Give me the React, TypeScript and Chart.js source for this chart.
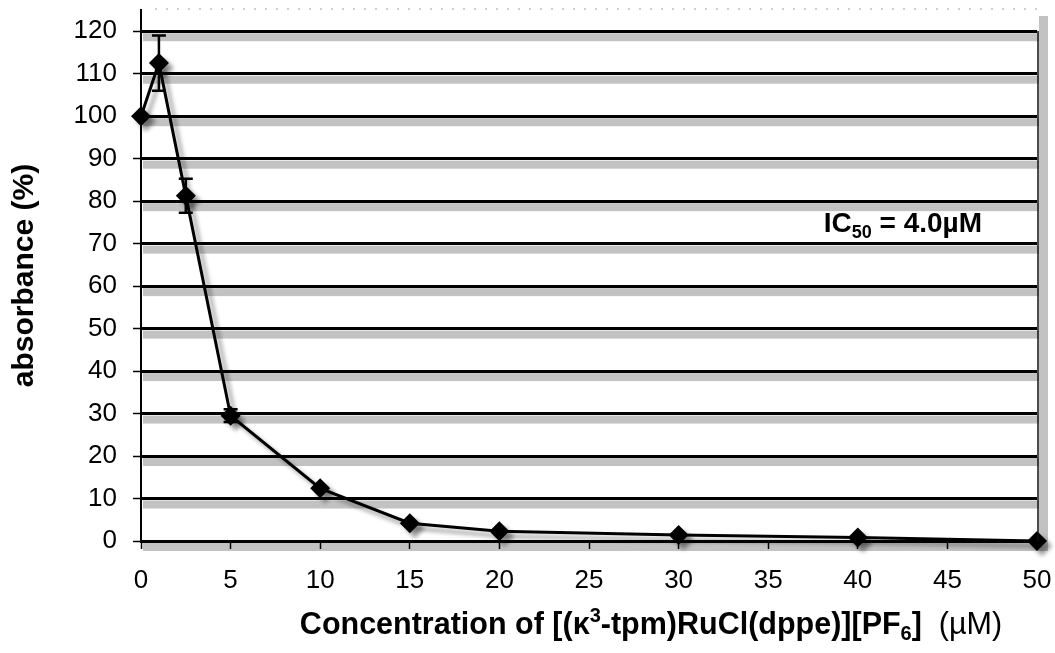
import React, { useEffect, useRef } from "react";
import { Chart, registerables } from "chart.js";

Chart.register(...registerables);

// Concentration (µM) and relative absorbance (%) with standard deviations
const concentrations = [0, 1, 2.5, 5, 10, 15, 20, 30, 40, 50];
const absorbance = [100, 112.5, 81.3, 29.5, 12.4, 4.2, 2.3, 1.4, 0.8, 0];
const deviations = [0, 6.5, 4, 1.5, 0, 0, 0, 0, 0, 0];

const xTickValues = [0, 5, 10, 15, 20, 25, 30, 35, 40, 45, 50];
const yTickValues = [0, 10, 20, 30, 40, 50, 60, 70, 80, 90, 100, 110, 120];

const yAxisTitle = "absorbance (%)";
const xAxisTitleParts = [
  { text: "Concentration of [(κ", kind: "main" },
  { text: "3", kind: "sup" },
  { text: "-tpm)RuCl(dppe)][PF", kind: "main" },
  { text: "6", kind: "sub" },
  { text: "]  ", kind: "main" },
  { text: "(µM)", kind: "unit" },
];
const icParts = [
  { text: "IC", kind: "main" },
  { text: "50", kind: "sub" },
  { text: " = 4.0µM", kind: "main" },
];

const FAMILY = '"Liberation Sans", Arial, Helvetica, sans-serif';
const SHADOW = "#c2c2c2";

// Grey drop-shadow bands under each gridline and along the right/bottom edge
const bandPlugin = {
  id: "bands",
  beforeDraw(chart: any) {
    const { ctx, chartArea, scales } = chart;
    const y = scales.y;
    ctx.save();
    ctx.fillStyle = SHADOW;
    for (const v of yTickValues) {
      const py = y.getPixelForValue(v);
      ctx.fillRect(chartArea.left + 2, py + 2, chartArea.right - chartArea.left + 1, 8);
    }
    ctx.fillRect(chartArea.right + 2, chartArea.top + 6, 9, chartArea.bottom - chartArea.top + 4);
    // faint dotted top edge of the plot area
    ctx.strokeStyle = "#9a9a9a";
    ctx.lineWidth = 1;
    ctx.setLineDash([2, 9]);
    ctx.beginPath();
    ctx.moveTo(chartArea.left + 14, chartArea.top - 1);
    ctx.lineTo(chartArea.right, chartArea.top - 1);
    ctx.stroke();
    ctx.setLineDash([]);
    ctx.restore();
  },
  afterDatasetsDraw(chart: any) {
    const { ctx, chartArea } = chart;
    ctx.save();
    ctx.strokeStyle = "#111";
    ctx.lineWidth = 1.5;
    ctx.beginPath();
    ctx.moveTo(chartArea.right + 1, chartArea.top + 21);
    ctx.lineTo(chartArea.right + 1, chartArea.bottom);
    ctx.stroke();
    ctx.restore();
  },
};

// Soft offset shadow behind the series line and markers
const seriesShadowPlugin = {
  id: "seriesShadow",
  beforeDatasetDraw(chart: any) {
    const ctx = chart.ctx;
    ctx.save();
    ctx.shadowColor = "rgba(0,0,0,0.4)";
    ctx.shadowBlur = 4;
    ctx.shadowOffsetX = 5;
    ctx.shadowOffsetY = 5;
  },
  afterDatasetDraw(chart: any) {
    chart.ctx.restore();
  },
};

// Vertical error bars with caps
const errorBarPlugin = {
  id: "errorBars",
  afterDatasetsDraw(chart: any) {
    const { ctx, scales } = chart;
    ctx.save();
    ctx.strokeStyle = "#000";
    ctx.lineWidth = 2.5;
    concentrations.forEach((c, i) => {
      const d = deviations[i];
      if (!d) return;
      const px = scales.x.getPixelForValue(c);
      const top = scales.y.getPixelForValue(absorbance[i] + d);
      const bottom = scales.y.getPixelForValue(absorbance[i] - d);
      ctx.beginPath();
      ctx.moveTo(px, top);
      ctx.lineTo(px, bottom);
      ctx.moveTo(px - 7, top);
      ctx.lineTo(px + 7, top);
      ctx.moveTo(px - 7, bottom);
      ctx.lineTo(px + 7, bottom);
      ctx.stroke();
    });
    ctx.restore();
  },
};

type Part = { text: string; kind: string };

function drawParts(ctx: CanvasRenderingContext2D, parts: Part[], x: number, baseline: number, size: number, align: "left" | "center") {
  const fontFor = (kind: string) => {
    if (kind === "sup" || kind === "sub") return `bold ${Math.round(size * 0.64)}px ${FAMILY}`;
    if (kind === "unit") return `${size}px ${FAMILY}`;
    return `bold ${size}px ${FAMILY}`;
  };
  const offsetFor = (kind: string) => (kind === "sup" ? -size * 0.38 : kind === "sub" ? size * 0.2 : 0);
  let total = 0;
  for (const p of parts) {
    ctx.font = fontFor(p.kind);
    total += ctx.measureText(p.text).width;
  }
  let cx = align === "center" ? x - total / 2 : x;
  ctx.textAlign = "left";
  ctx.textBaseline = "alphabetic";
  ctx.fillStyle = "#000";
  for (const p of parts) {
    ctx.font = fontFor(p.kind);
    ctx.fillText(p.text, cx, baseline + offsetFor(p.kind));
    cx += ctx.measureText(p.text).width;
  }
}

const textPlugin = {
  id: "texts",
  afterDraw(chart: any) {
    const { ctx, chartArea, scales } = chart;
    ctx.save();
    // x-axis title
    drawParts(ctx, xAxisTitleParts, (chartArea.left + chartArea.right) / 2 + 62, 634, 30.5, "center");
    // IC50 note placed between the 70 % and 80 % gridlines
    const yMid = (scales.y.getPixelForValue(70) + scales.y.getPixelForValue(80)) / 2;
    drawParts(ctx, icParts, scales.x.getPixelForValue(38.1), yMid + 10, 28, "left");
    ctx.restore();
  },
};

export default function App() {
  const canvasRef = useRef<HTMLCanvasElement | null>(null);

  useEffect(() => {
    const canvas = canvasRef.current;
    if (!canvas) return;
    const chart = new Chart(canvas, {
      type: "line",
      data: {
        datasets: [
          {
            label: "absorbance",
            data: concentrations.map((c, i) => ({ x: c, y: absorbance[i] })),
            borderColor: "#000",
            borderWidth: 3,
            backgroundColor: "#000",
            pointStyle: "rectRot",
            pointRadius: 10,
            pointBorderWidth: 0,
            pointBackgroundColor: "#000",
            tension: 0,
            fill: false,
            clip: false,
          } as any,
        ],
      },
      options: {
        responsive: false,
        animation: false,
        events: [],
        layout: { padding: { top: 9, right: 18, left: 0, bottom: 0 } },
        plugins: {
          legend: { display: false },
          tooltip: { enabled: false },
          title: { display: false },
        },
        scales: {
          x: {
            type: "linear",
            min: 0,
            max: 50,
            afterBuildTicks: (scale: any) => {
              scale.ticks = xTickValues.map((v) => ({ value: v }));
            },
            afterFit: (scale: any) => {
              scale.height = 112;
              scale.paddingLeft = 0;
              scale.paddingRight = 0;
            },
            border: { display: false },
            grid: {
              display: true,
              drawOnChartArea: false,
              drawTicks: true,
              tickLength: 8,
              tickWidth: 1.5,
              tickColor: "#000",
            },
            ticks: {
              color: "#000",
              padding: 16,
              maxRotation: 0,
              autoSkip: false,
              font: { family: FAMILY, size: 26 },
            },
          },
          y: {
            type: "linear",
            min: 0,
            max: 125,
            afterBuildTicks: (scale: any) => {
              scale.ticks = yTickValues.map((v) => ({ value: v }));
            },
            afterFit: (scale: any) => {
              scale.width = 141;
              scale.paddingTop = 0;
              scale.paddingBottom = 0;
            },
            border: { display: true, color: "#000", width: 2 },
            grid: {
              color: "#000",
              lineWidth: 3,
              drawTicks: true,
              tickLength: 8,
              tickWidth: 1.5,
              tickColor: "#000",
            },
            ticks: {
              color: "#000",
              padding: 16,
              autoSkip: false,
              font: { family: FAMILY, size: 26 },
            },
            title: {
              display: true,
              text: yAxisTitle,
              color: "#000",
              font: { family: FAMILY, size: 30, weight: "bold" },
              padding: { top: 7, bottom: 0 },
            },
          },
        },
      },
      plugins: [bandPlugin, seriesShadowPlugin, errorBarPlugin, textPlugin],
    });
    return () => chart.destroy();
  }, []);

  return (
    <div style={{ position: "absolute", left: 0, top: 0, width: 1055, height: 653, background: "#fff" }}>
      <canvas ref={canvasRef} width={1055} height={653} style={{ display: "block" }} />
    </div>
  );
}
